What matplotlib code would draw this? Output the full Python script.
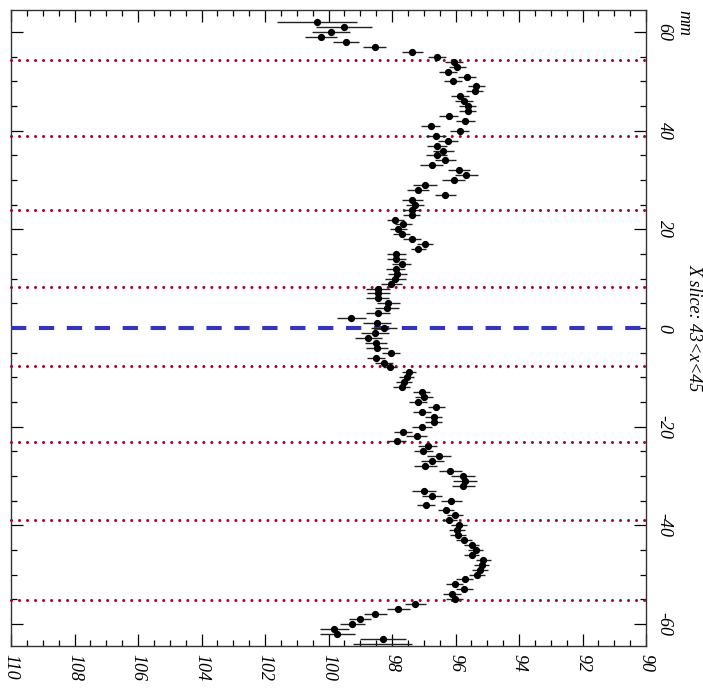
import matplotlib
matplotlib.use("Agg")
import matplotlib.pyplot as plt
from matplotlib.ticker import MultipleLocator

plt.rcParams['font.family'] = ['Liberation Serif', 'DejaVu Serif']
plt.rcParams['font.style'] = 'italic'
plt.rcParams['axes.unicode_minus'] = False
plt.rcParams['lines.scale_dashes'] = False

# slice position in mm, top to bottom
mm_pos = [62, 61, 60, 59, 58, 57, 56, 55, 54, 53, 52, 51, 50, 49, 48, 47,
          46, 45, 44, 43, 42, 41, 40, 39, 38, 37, 36, 35, 34, 33, 32, 31,
          30, 29, 28, 27, 26, 25, 24, 23, 22, 21, 20, 19, 18, 17, 16, 15,
          14, 13, 12, 11, 10, 9, 8, 7, 6, 5, 4, 3, 2, 1, 0, -1,
          -2, -3, -4, -5, -6, -7, -8, -9, -10, -11, -12, -13, -14, -15, -16, -17,
          -18, -19, -20, -21, -22, -23, -24, -25, -26, -27, -28, -29, -30, -31, -32, -33,
          -34, -35, -36, -37, -38, -39, -40, -41, -42, -43, -44, -45, -46, -47, -48, -49,
          -50, -51, -52, -53, -54, -55, -56, -57, -58, -59, -60, -61, -62, -63, -64]

values = [100.37, 99.51, 99.92, 100.24, 99.44, 98.54, 97.36, 96.59, 96.04, 95.94, 96.24, 95.64, 96.09, 95.34, 95.40, 95.87,
          95.74, 95.62, 95.62, 96.22, 95.70, 96.78, 95.87, 96.62, 96.24, 96.59, 96.39, 96.59, 96.32, 96.75, 95.89, 95.66,
          96.06, 96.95, 97.18, 96.32, 97.36, 97.28, 97.38, 97.38, 97.90, 97.65, 97.80, 97.70, 97.37, 96.96, 97.17, 97.86,
          97.86, 97.70, 97.88, 97.83, 97.89, 98.03, 98.43, 98.43, 98.45, 98.12, 98.15, 98.43, 99.28, 98.47, 98.25, 98.53,
          98.75, 98.51, 98.47, 98.02, 98.51, 98.25, 98.07, 97.46, 97.54, 97.63, 97.69, 97.07, 96.99, 97.18, 96.61, 97.06,
          96.69, 96.69, 97.05, 97.65, 97.22, 97.85, 96.88, 97.01, 96.51, 96.73, 96.95, 96.16, 95.76, 95.69, 95.76, 96.99,
          96.74, 96.13, 96.92, 96.31, 96.02, 96.19, 95.89, 95.95, 95.92, 95.74, 95.49, 95.37, 95.49, 95.12, 95.18, 95.23,
          95.31, 95.71, 96.02, 95.72, 96.10, 96.03, 97.27, 97.80, 98.52, 99.00, 99.25, 99.82, 99.73, 98.29, 98.29]

errors = [1.26, 0.88, 0.60, 0.50, 0.41, 0.36, 0.34, 0.29, 0.28, 0.27, 0.28, 0.27, 0.28, 0.26, 0.27, 0.28,
          0.28, 0.27, 0.28, 0.30, 0.30, 0.30, 0.30, 0.31, 0.32, 0.31, 0.33, 0.33, 0.34, 0.37, 0.34, 0.36,
          0.35, 0.38, 0.35, 0.32, 0.34, 0.28, 0.27, 0.26, 0.27, 0.27, 0.26, 0.28, 0.27, 0.26, 0.24, 0.29,
          0.29, 0.30, 0.30, 0.31, 0.33, 0.33, 0.38, 0.37, 0.36, 0.36, 0.38, 0.38, 0.45, 0.43, 0.40, 0.45,
          0.43, 0.35, 0.34, 0.28, 0.29, 0.27, 0.22, 0.22, 0.24, 0.25, 0.27, 0.27, 0.28, 0.27, 0.27, 0.28,
          0.28, 0.28, 0.31, 0.28, 0.33, 0.30, 0.30, 0.31, 0.38, 0.36, 0.36, 0.37, 0.37, 0.38, 0.36, 0.38,
          0.33, 0.32, 0.28, 0.25, 0.25, 0.24, 0.24, 0.24, 0.24, 0.25, 0.24, 0.24, 0.24, 0.24, 0.24, 0.24,
          0.25, 0.26, 0.27, 0.27, 0.28, 0.27, 0.33, 0.36, 0.36, 0.34, 0.39, 0.45, 0.55, 0.73, 0.93]

# boundary lines (mm)
red_lines = [54.4, 38.9, 23.9, 8.4, -7.7, -23.1, -38.9, -55.2]
center_line = 0

fig = plt.figure(figsize=(7.03, 6.98), dpi=100)
ax = fig.add_axes([11/703, 1 - 646/698, 635/703, 636/698])

for yl in red_lines:
    ax.axhline(yl, color='#a8002a', lw=2.2, linestyle=(0, (0.01, 5.76)),
               dash_capstyle='round', clip_on=False, zorder=3)
ax.axhline(center_line, color='#3333cc', lw=2.9, linestyle=(0, (11, 9.1)),
           dash_capstyle='butt', zorder=3)

# last bin only has its bar visible
ax.errorbar(values[:-1], mm_pos[:-1], xerr=errors[:-1], fmt='o', color='black',
            ecolor='#222222', elinewidth=1.0, capsize=0, markersize=4.2, zorder=4)
ax.errorbar(values[-1:], mm_pos[-1:], xerr=errors[-1:], fmt='none',
            ecolor='#222222', elinewidth=1.0, capsize=0, zorder=4)

ax.set_xlim(110, 90)
ax.set_ylim(-64.5, 64.5)

ax.xaxis.set_major_locator(MultipleLocator(2))
ax.xaxis.set_minor_locator(MultipleLocator(0.5))
ax.yaxis.set_major_locator(MultipleLocator(20))
ax.yaxis.set_minor_locator(MultipleLocator(5))

ax.tick_params(axis='x', which='both', direction='in', top=True, bottom=True,
               labelsize=13, pad=6, labelrotation=-90)
ax.tick_params(axis='y', which='both', direction='in', left=True, right=True,
               labelleft=False, labelright=True, labelsize=13, pad=7, labelrotation=-90)
ax.tick_params(which='major', length=8.5, width=0.9)
ax.tick_params(which='minor', length=4.3, width=0.9)
for lab in ax.get_yticklabels():
    lab.set_va('center')

for sp in ax.spines.values():
    sp.set_linewidth(1.0)
    sp.set_color('#333333')

fig.text(684/703, 1 - 10/698, 'mm', rotation=-90, ha='center', va='top', fontsize=13)
fig.text(694/703, 1 - 328/698, 'X slice: 43<x<45', rotation=-90, ha='center', va='center',
         fontsize=13)

fig.savefig('out.png', dpi=100)
